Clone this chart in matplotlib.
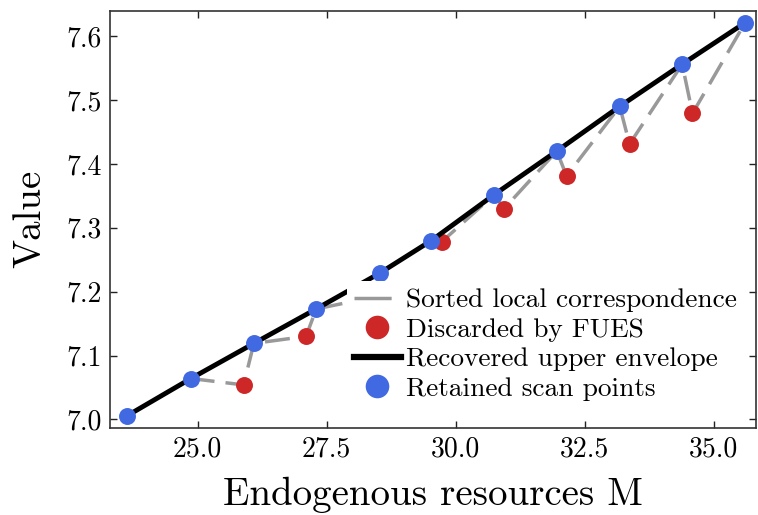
import matplotlib
matplotlib.use("Agg")
import matplotlib.pyplot as plt
from matplotlib.lines import Line2D
import numpy as np

# values
blue_M = [23.64, 24.87, 26.09, 27.30, 28.53, 29.53, 30.75, 31.96, 33.18, 34.39, 35.61]
blue_V = [7.006, 7.064, 7.119, 7.173, 7.229, 7.280, 7.352, 7.420, 7.490, 7.556, 7.621]
red_M = [25.89, 27.10, 28.33, 29.73, 30.94, 32.15, 33.37, 34.59]
red_V = [7.054, 7.130, 7.190, 7.278, 7.330, 7.381, 7.431, 7.479]

plt.rcParams['font.family'] = ['cmr10', 'DejaVu Serif']
plt.rcParams['mathtext.fontset'] = 'cm'
plt.rcParams['axes.formatter.use_mathtext'] = True

red = '#cd2727'
blue = '#4169e1'
grey = '#999999'

# sorted correspondence goes through every point in order of M
all_M = np.array(blue_M + red_M)
all_V = np.array(blue_V + red_V)
order = np.argsort(all_M)

fig = plt.figure(figsize=(7.58, 5.15), dpi=100)
ax = fig.add_axes([0.145, 0.1695, 0.853, 0.8095])

ax.plot(all_M[order], all_V[order], color=grey, lw=2.5, dashes=(7.2, 3.2), zorder=1)
ax.plot(red_M, red_V, 'o', color=red, ms=12.2, mec='none', zorder=2)
ax.plot(blue_M, blue_V, '-', color='black', lw=3.5, zorder=3)
ax.plot(blue_M, blue_V, 'o', color=blue, ms=12.2, mec='none', zorder=4)

ax.set_xlim(23.30, 35.83)
ax.set_ylim(6.987, 7.6396)
ax.set_xticks([25.0, 27.5, 30.0, 32.5, 35.0])
ax.set_yticks([7.0, 7.1, 7.2, 7.3, 7.4, 7.5, 7.6])
ax.set_xticklabels(['25.0', '27.5', '30.0', '32.5', '35.0'])
ax.set_yticklabels(['7.0', '7.1', '7.2', '7.3', '7.4', '7.5', '7.6'])
ax.tick_params(direction='in', top=True, right=True, length=5, width=1,
               labelsize=20, colors='#222222', labelcolor='black', pad=6)
for s in ax.spines.values():
    s.set_linewidth(1.2)
    s.set_color('#333333')

ax.set_xlabel('Endogenous resources M', fontsize=28, labelpad=10)
ax.set_ylabel('Value', fontsize=28, labelpad=13)

# legend handles
handles = [
    Line2D([], [], color=grey, lw=2.5, dashes=(10.7, 3.0)),
    Line2D([], [], ls='none', marker='o', color=red, ms=17, mec='none'),
    Line2D([], [], color='black', lw=4.5),
    Line2D([], [], ls='none', marker='o', color=blue, ms=17, mec='none'),
]
labels = ['Sorted local correspondence', 'Discarded by FUES',
          'Recovered upper envelope', 'Retained scan points']
ax.legend(handles, labels, loc='lower right', bbox_to_anchor=(0.993, 0.028),
          fontsize=19.7, frameon=True, framealpha=1, edgecolor='none',
          facecolor='white', borderaxespad=0.3, handlelength=1.7,
          handletextpad=0.2, labelspacing=0.2, borderpad=0.25)

fig.savefig('out.png', dpi=100)
